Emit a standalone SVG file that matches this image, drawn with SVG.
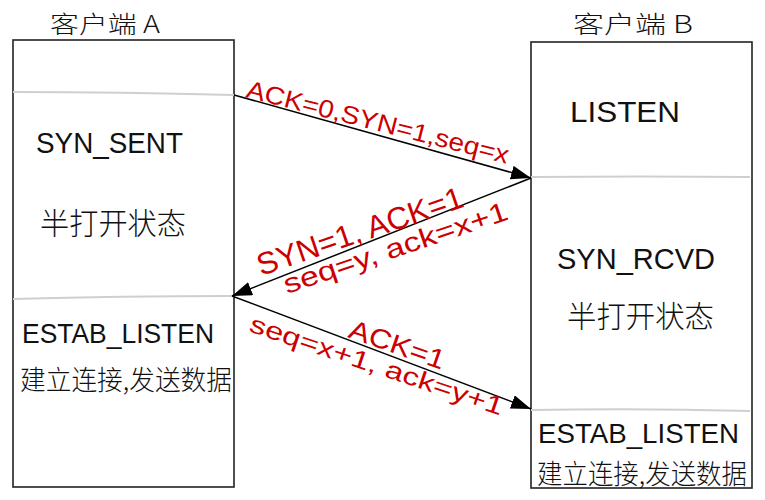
<svg xmlns="http://www.w3.org/2000/svg" width="765" height="500" viewBox="0 0 765 500">
<defs>
<marker id="ah" viewBox="0 0 20 14" refX="20" refY="7" markerWidth="20" markerHeight="14" markerUnits="userSpaceOnUse" orient="auto">
<path d="M0,0 L20,7 L0,14 z" fill="#000"/>
</marker>
<style>
.box{fill:#fff;stroke:#222;stroke-width:1.6}
.sep{stroke:#cfcfcf;stroke-width:2;fill:none}
.t{font-family:"Liberation Sans","Noto Sans CJK SC",sans-serif;fill:#111}
.cn{font-family:"Noto Sans CJK SC",sans-serif;fill:#111;font-weight:300}
.lbl{font-family:"Liberation Sans","Noto Sans CJK SC",sans-serif;fill:#cc0000}
.conn{stroke:#000;stroke-width:1.5;fill:none}
</style>
</defs>
<rect width="765" height="500" fill="#fff"/>
<g id="clientA">
<text class="cn" x="50" y="33" font-size="24" textLength="110" lengthAdjust="spacingAndGlyphs">客户端 A</text>
<rect class="box" x="13" y="40" width="221" height="447"/>
<path class="sep" d="M13,92 Q120,92 234,95"/>
<path class="sep" d="M13,299 Q120,296 232,296"/>
<text class="t" x="36" y="153" font-size="30" textLength="147" lengthAdjust="spacingAndGlyphs">SYN_SENT</text>
<text class="cn" x="40" y="234" font-size="30" textLength="146" lengthAdjust="spacingAndGlyphs">半打开状态</text>
<text class="t" x="22" y="343" font-size="28" textLength="192" lengthAdjust="spacingAndGlyphs">ESTAB_LISTEN</text>
<text class="cn" x="20" y="390" font-size="27" textLength="212" lengthAdjust="spacingAndGlyphs">建立连接,发送数据</text>
</g>
<g id="clientB">
<text class="cn" x="573" y="33" font-size="24" textLength="120" lengthAdjust="spacingAndGlyphs">客户端 B</text>
<rect class="box" x="531" y="42" width="221" height="446"/>
<path class="sep" d="M531,177 Q640,176 750,177"/>
<path class="sep" d="M531,410 Q640,408 750,411"/>
<text class="t" x="570" y="122" font-size="30" textLength="110" lengthAdjust="spacingAndGlyphs">LISTEN</text>
<text class="t" x="557" y="269" font-size="30" textLength="158" lengthAdjust="spacingAndGlyphs">SYN_RCVD</text>
<text class="cn" x="567" y="327" font-size="30" textLength="147" lengthAdjust="spacingAndGlyphs">半打开状态</text>
<text class="t" x="538" y="443" font-size="28" textLength="201" lengthAdjust="spacingAndGlyphs">ESTAB_LISTEN</text>
<text class="cn" x="537" y="484" font-size="27" textLength="210" lengthAdjust="spacingAndGlyphs">建立连接,发送数据</text>
</g>
<g id="connectors">
<line class="conn" x1="234" y1="95" x2="531" y2="178" marker-end="url(#ah)"/>
<line class="conn" x1="531" y1="178" x2="232" y2="296" marker-end="url(#ah)"/>
<line class="conn" x1="232" y1="296" x2="531" y2="409" marker-end="url(#ah)"/>
<text class="lbl" font-size="25" transform="translate(245,97) rotate(14.3)" textLength="270" lengthAdjust="spacingAndGlyphs">ACK=0,SYN=1,seq=x</text>
<text class="lbl" font-size="31" transform="translate(261,276) rotate(-18.8)" textLength="216" lengthAdjust="spacingAndGlyphs">SYN=1, ACK=1</text>
<text class="lbl" font-size="27" transform="translate(287,294) rotate(-18.6)" textLength="235" lengthAdjust="spacingAndGlyphs">seq=y, ack=x+1</text>
<text class="lbl" font-size="27" transform="translate(347,337) rotate(19)" textLength="100" lengthAdjust="spacingAndGlyphs">ACK=1</text>
<text class="lbl" font-size="25" transform="translate(248,331) rotate(18.5)" textLength="266" lengthAdjust="spacingAndGlyphs">seq=x+1, ack=y+1</text>
</g>
</svg>
